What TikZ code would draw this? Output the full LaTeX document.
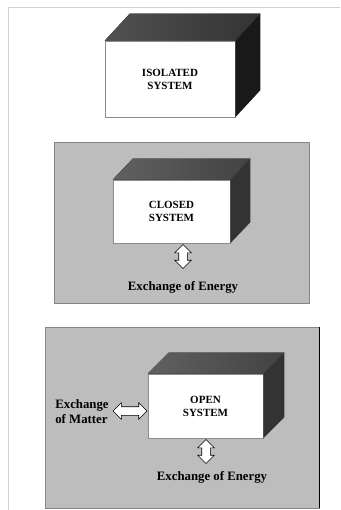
\documentclass[tikz,border=0pt]{standalone}
\usepackage{fontspec}
\setmainfont{Liberation Serif}
\usetikzlibrary{shapes.arrows}
\begin{document}
\begin{tikzpicture}[x=1pt,y=-1pt,
  face/.style={draw=black!45, line width=0.6pt, fill=white, inner sep=0pt,
    align=center, font=\bfseries\fontsize{11}{13}\selectfont},
  panel/.style={draw=black!48, line width=0.9pt, fill=black!26, inner sep=0pt},
  isotop/.style={left color=black!68, right color=black!80},
  isoside/.style={fill=black!90},
  boxtop/.style={left color=black!62, right color=black!74},
  boxside/.style={fill=black!80},
  biarrow/.style={double arrow, draw=black, fill=white, line width=0.6pt,
    inner xsep=0pt, inner ysep=4pt, double arrow head extend=4pt},
  caption/.style={font=\bfseries\fontsize{12.8}{15}\selectfont, inner sep=0pt}]

\useasboundingbox (0,0) rectangle (340,510);
\draw[black!18, line width=0.8pt] (340,7) -- (8,7) -- (8,510);

% isolated system: a closed cuboid on its own
\node[face, minimum width=130pt, minimum height=76pt] (iso) at (170,79) {ISOLATED\\SYSTEM};
\fill[isotop] (iso.north west) -- ++(25pt,27pt) -- ([shift={(25pt,27pt)}]iso.north east)
  -- (iso.north east) -- cycle;
\fill[isoside] (iso.north east) -- ++(25pt,27pt) -- ([shift={(25pt,27pt)}]iso.south east)
  -- (iso.south east) -- cycle;

% closed system: energy only crosses the boundary
\node[panel, minimum width=255pt, minimum height=161pt] (cpanel) at (181.5,222.5) {};
\node[face, minimum width=117pt, minimum height=63pt] (closed) at (171.5,211.5) {CLOSED\\SYSTEM};
\fill[boxtop] (closed.north west) -- ++(20pt,21pt) -- ([shift={(20pt,21pt)}]closed.north east)
  -- (closed.north east) -- cycle;
\fill[boxside] (closed.north east) -- ++(20pt,21pt) -- ([shift={(20pt,21pt)}]closed.south east)
  -- (closed.south east) -- cycle;
\node[biarrow, rotate=90, minimum height=24pt] (cenergy) at (183,256.5) {};
\node[caption] (ctext) at (183,287) {Exchange of Energy};

% open system: matter and energy both cross the boundary
\node[panel, minimum width=274pt, minimum height=181pt] (opanel) at (182,417.5) {};
\draw[black, line width=1.6pt] (opanel.north east) -- (opanel.south east);
\node[face, minimum width=115pt, minimum height=64pt] (open) at (205.5,406) {OPEN\\SYSTEM};
\fill[boxtop] (open.north west) -- ++(21pt,21pt) -- ([shift={(21pt,21pt)}]open.north east)
  -- (open.north east) -- cycle;
\fill[boxside] (open.north east) -- ++(21pt,21pt) -- ([shift={(21pt,21pt)}]open.south east)
  -- (open.south east) -- cycle;
\node[biarrow, minimum height=34pt] (omatter) at (130,411) {};
\node[caption, align=left] (mtext) at (82,412) {Exchange\\of Matter};
\node[biarrow, rotate=90, minimum height=24pt] (oenergy) at (206,451.5) {};
\node[caption] (otext) at (212,477) {Exchange of Energy};
\end{tikzpicture}
\end{document}
